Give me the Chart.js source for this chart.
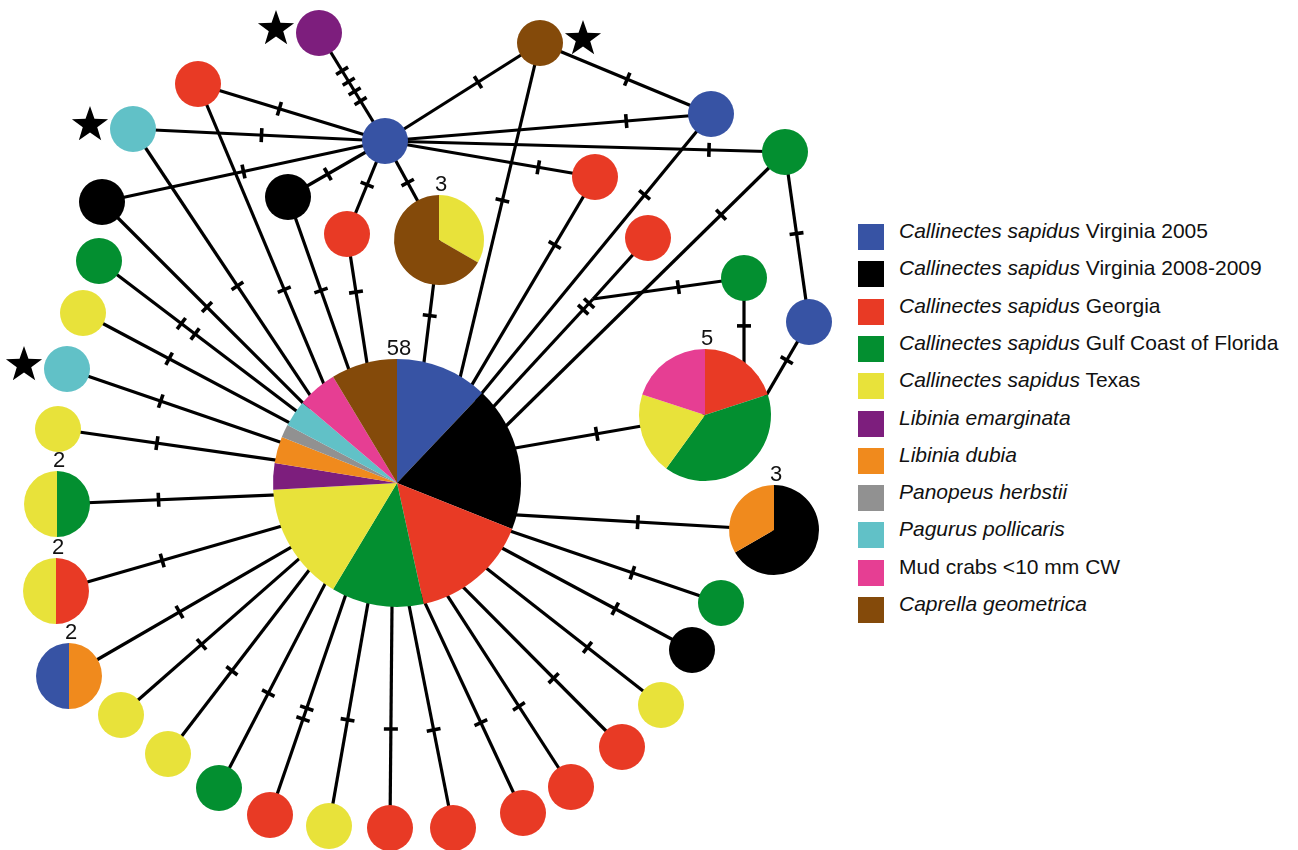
<!DOCTYPE html>
<html>
<head>
<meta charset="utf-8">
<script src="https://cdn.jsdelivr.net/npm/chart.js@4.4.1/dist/chart.umd.min.js"></script>
<style>
  html, body { margin: 0; padding: 0; background: #fff; }
  #wrap { position: relative; width: 1298px; height: 850px; }
  #rede { position: absolute; left: 0; top: 0; }
  #legenda { position: absolute; left: 0; top: 0; font-family: "Liberation Sans", Arial, Helvetica, sans-serif; font-size: 21px; color: #111; }
  .sw { position: absolute; left: 858px; width: 26px; height: 26px; }
  .tx { position: absolute; left: 899px; line-height: 21px; white-space: nowrap; }
</style>
</head>
<body>
<div id="wrap">
  <canvas id="rede" width="850" height="850"></canvas>
  <div id="legenda"></div>
</div>
<script>
// grupos (legenda)
const legendaItalico = ["Callinectes sapidus", "Callinectes sapidus", "Callinectes sapidus", "Callinectes sapidus", "Callinectes sapidus",
  "Libinia emarginata", "Libinia dubia", "Panopeus herbstii", "Pagurus pollicaris", "", "Caprella geometrica"];
const legendaResto = [" Virginia 2005", " Virginia 2008-2009", " Georgia", " Gulf Coast of Florida", " Texas",
  "", "", "", "", "Mud crabs <10 mm CW", ""];
const cores = ["#3753a4", "#000000", "#e83a25", "#038f30", "#e8e23a", "#7d1e7d", "#f08a1d", "#919191", "#61c1c7", "#e63e93", "#844a0a"];

// haplotipos: posicao na rede e composicao [grupo, n]
const nodeX = [397, 385, 319, 540, 198, 133, 711, 785, 102, 288, 595, 347, 439, 648, 744, 99, 83, 809, 67, 705,
  58, 57, 774, 56, 721, 692, 69, 661, 121, 622, 168, 571, 219, 523, 270, 329, 390, 453, 593];
const nodeY = [483, 141, 33, 43, 84, 129, 114, 152, 202, 197, 177, 234, 240, 238, 278, 261, 313, 322, 369, 415,
  429, 504, 530, 591, 603, 650, 676, 705, 715, 747, 754, 787, 788, 813, 815, 826, 828, 828, 299];
const nodeMix = [
  [[0, 7], [1, 11], [2, 9], [3, 7], [4, 9], [5, 2], [6, 2], [7, 1], [8, 2], [9, 3], [10, 5]],
  [[0, 1]], [[5, 1]], [[10, 1]], [[2, 1]], [[8, 1]], [[0, 1]], [[3, 1]], [[1, 1]], [[1, 1]],
  [[2, 1]], [[2, 1]], [[4, 1], [10, 2]], [[2, 1]], [[3, 1]], [[3, 1]], [[4, 1]], [[0, 1]], [[8, 1]],
  [[2, 1], [3, 2], [4, 1], [9, 1]],
  [[4, 1]], [[3, 1], [4, 1]], [[1, 2], [6, 1]], [[2, 1], [4, 1]], [[3, 1]], [[1, 1]], [[6, 1], [0, 1]],
  [[4, 1]], [[4, 1]], [[2, 1]], [[4, 1]], [[2, 1]], [[3, 1]], [[2, 1]], [[2, 1]], [[4, 1]], [[2, 1]], [[2, 1]],
  [] // vetor mediano
];
const starNodes = [2, 5, 18, 3];
const starSide = [-1, -1, -1, 1];

// ligacoes entre haplotipos: de, para, posicao das mutacoes
const linkFrom = [1, 1, 1, 1, 1, 1, 1, 1, 1, 1, 1, 3, 7, 14, 13];
const linkTo = [2, 4, 5, 8, 9, 11, 12, 3, 6, 7, 10, 6, 17, 38, 38];
const linkTicks = [[0.37, 0.46, 0.55, 0.65], [0.565], [0.49], [0.5], [0.59], [0.47], [0.42], [0.6], [0.74], [0.81], [0.73],
  [0.51], [0.48], [0.435], []];

// ligacoes que chegam na borda dos circulos grandes
const spokeFrom = [17, 14, 38, 7, 6, 10, 3, 12, 11, 9, 4, 5, 8, 15, 16, 18, 20, 21, 23, 26, 28, 30, 32, 34, 35, 36, 37, 33, 31, 29, 27, 25, 24, 22, 19];
const rimX = [767, 744, 495, 507, 482, 473, 460, 424, 367, 348, 323, 310, 302, 295, 288, 280, 275, 273, 282, 290, 300, 310, 325, 345, 368, 392, 409, 425, 447, 463, 486, 500, 510, 517, 515];
const rimY = [394, 362, 405, 425, 393, 383, 378, 362, 363, 367, 382, 395, 402, 410, 422, 442, 460, 495, 526, 548, 558, 569, 584, 597, 603, 606, 605, 603, 595, 587, 568, 547, 531, 515, 448];
const spokeTicks = [[0.53], [0.57], [0.04, 0.1], [0.23], [0.29], [0.33], [0.47], [0.62], [0.45], [0.55], [0.69], [0.59], [0.525],
  [0.42, 0.49], [0.42], [0.44], [0.456], [0.47], [0.47], [0.5], [0.45], [0.45], [0.465], [0.44, 0.49], [0.476], [0.446],
  [0.44], [0.43], [0.42], [0.43], [0.42], [0.4], [0.42], [0.53], [0.57]];

// legenda em html
const leg = document.getElementById("legenda");
cores.forEach((c, i) => {
  const top = 224 + i * 37.3;
  const sw = document.createElement("div");
  sw.className = "sw";
  sw.style.top = top + "px";
  sw.style.background = c;
  leg.appendChild(sw);
  const tx = document.createElement("div");
  tx.className = "tx";
  tx.style.top = (top - 4) + "px";
  tx.innerHTML = (legendaItalico[i] ? "<i>" + legendaItalico[i] + "</i>" : "") + legendaResto[i].replace("<", "&lt;");
  leg.appendChild(tx);
});

const total = m => m.reduce((s, p) => s + p[1], 0);
const raioPorN = { 1: 23, 2: 33, 3: 45, 5: 66, 58: 124 };

// lista de todas as arestas
const arestas = [];
linkFrom.forEach((a, i) => {
  arestas.push({ x1: nodeX[a], y1: nodeY[a], x2: nodeX[linkTo[i]], y2: nodeY[linkTo[i]], ticks: linkTicks[i], ext: 0 });
});
spokeFrom.forEach((a, i) => {
  arestas.push({ x1: nodeX[a], y1: nodeY[a], x2: rimX[i], y2: rimY[i], ticks: spokeTicks[i], ext: 10 });
});

// os pontos simples vao primeiro: o Chart.js desenha o dataset 0 por cima
const simples = nodeMix.map((m, i) => i).filter(i => nodeMix[i].length === 1 && total(nodeMix[i]) === 1);
const datasets = [{
  data: simples.map(i => ({ x: nodeX[i], y: nodeY[i] })),
  backgroundColor: simples.map(i => cores[nodeMix[i][0][0]]),
  pointRadius: 23, borderWidth: 0, showLine: false
}];

arestas.forEach(e => {
  const L = Math.hypot(e.x2 - e.x1, e.y2 - e.y1);
  const fx = e.x2 + (e.x2 - e.x1) / L * e.ext, fy = e.y2 + (e.y2 - e.y1) / L * e.ext;
  datasets.push({
    data: [{ x: e.x1, y: e.y1 }, { x: fx, y: fy }],
    showLine: true, borderColor: "#000", borderWidth: 3.2, pointRadius: 0, fill: false
  });
});

const redePlugin = {
  id: "rede",
  afterDatasetsDraw(chart) {
    const ctx = chart.ctx, sx = chart.scales.x, sy = chart.scales.y;
    const px = v => sx.getPixelForValue(v), py = v => sy.getPixelForValue(v);
    ctx.save();
    // mutacoes
    ctx.strokeStyle = "#000";
    ctx.lineWidth = 3.6;
    arestas.forEach(e => {
      const x1 = px(e.x1), y1 = py(e.y1), x2 = px(e.x2), y2 = py(e.y2);
      const len = Math.hypot(x2 - x1, y2 - y1);
      const nx = -(y2 - y1) / len, ny = (x2 - x1) / len;
      e.ticks.forEach(t => {
        const cx = x1 + (x2 - x1) * t, cy = y1 + (y2 - y1) * t;
        ctx.beginPath();
        ctx.moveTo(cx - nx * 7, cy - ny * 7);
        ctx.lineTo(cx + nx * 7, cy + ny * 7);
        ctx.stroke();
      });
    });
    // pizzas
    nodeMix.forEach((m, i) => {
      const n = total(m);
      if (n < 2) return;
      const cx = px(nodeX[i]), cy = py(nodeY[i]), r = raioPorN[n];
      let a = -Math.PI / 2;
      m.forEach(([g, k]) => {
        const b = a + (k / n) * Math.PI * 2;
        ctx.beginPath();
        ctx.moveTo(cx, cy);
        ctx.arc(cx, cy, r, a, b);
        ctx.closePath();
        ctx.fillStyle = cores[g];
        ctx.fill();
        a = b;
      });
      ctx.fillStyle = "#111";
      ctx.font = '22px "Liberation Sans", Arial, sans-serif';
      ctx.textAlign = "center";
      ctx.textBaseline = "alphabetic";
      ctx.fillText(String(n), cx + 2, cy - r - 4);
    });
    // estrelas
    ctx.fillStyle = "#000";
    starNodes.forEach((i, k) => {
      const cx = px(nodeX[i]) + starSide[k] * 43, cy = py(nodeY[i]) - 4;
      ctx.beginPath();
      for (let j = 0; j < 10; j++) {
        const rr = j % 2 === 0 ? 19 : 7.6;
        const ang = -Math.PI / 2 + j * Math.PI / 5;
        const x = cx + rr * Math.cos(ang), y = cy + rr * Math.sin(ang);
        if (j === 0) ctx.moveTo(x, y); else ctx.lineTo(x, y);
      }
      ctx.closePath();
      ctx.fill();
    });
    ctx.restore();
  }
};

new Chart(document.getElementById("rede"), {
  type: "scatter",
  data: { datasets },
  options: {
    responsive: false,
    animation: false,
    events: [],
    layout: { padding: 0, autoPadding: false },
    plugins: { legend: { display: false }, tooltip: { enabled: false } },
    scales: {
      x: { type: "linear", min: 0, max: 850, display: false },
      y: { type: "linear", min: 0, max: 850, reverse: true, display: false }
    }
  },
  plugins: [redePlugin]
});
</script>
</body>
</html>
